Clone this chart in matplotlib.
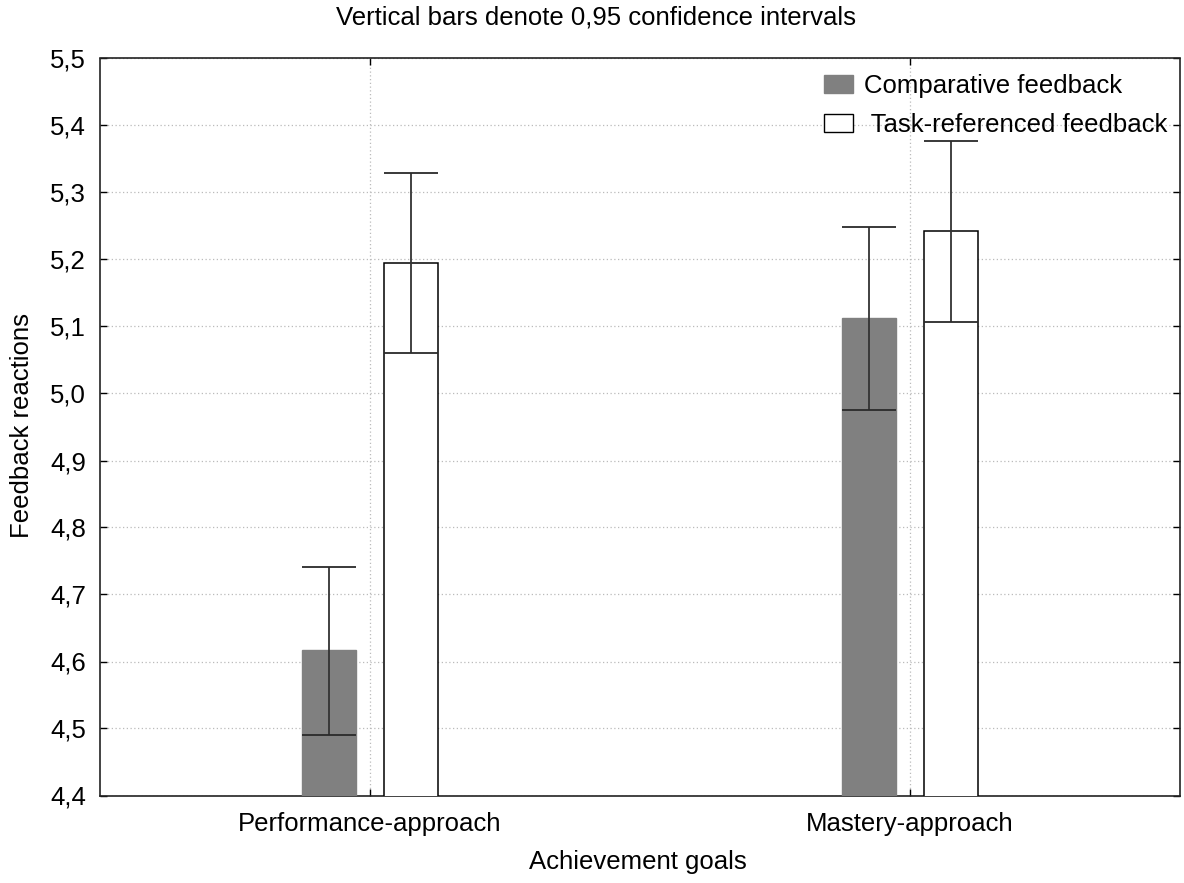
import matplotlib
matplotlib.use("Agg")
import matplotlib.pyplot as plt
from matplotlib.ticker import FuncFormatter, MultipleLocator
from matplotlib.patches import Patch
import numpy as np

plt.rcParams['font.family'] = ['Liberation Sans', 'DejaVu Sans']

groups = ["Performance-approach", "Mastery-approach"]
series = ["Comparative feedback", "Task-referenced feedback"]
comp_mean = [4.617, 5.113]
comp_lo = [4.491, 4.976]
comp_hi = [4.741, 5.248]
task_mean = [5.195, 5.243]
task_lo = [5.060, 5.107]
task_hi = [5.329, 5.377]

fig = plt.figure(figsize=(11.84, 8.83), dpi=100)
ax = fig.add_axes([100/1184, 1-795.5/883, 1080/1184, 737/883])

x = np.arange(len(groups))
w = 0.1
off = 0.076
fs = 18.5

ax.bar(x - off, comp_mean, width=w, color="#808080", edgecolor="#808080", linewidth=1, zorder=3)
ax.bar(x + off, task_mean, width=w, color="white", edgecolor="black", linewidth=1.1, zorder=3)

for xs, lo, hi in [(x - off, comp_lo, comp_hi), (x + off, task_lo, task_hi)]:
    ax.vlines(xs, lo, hi, color="#333333", linewidth=1.3, zorder=4)
    ax.hlines(hi, xs - w/2, xs + w/2, color="#2a2a2a", linewidth=1.3, zorder=4)
    ax.hlines(lo, xs - w/2, xs + w/2, color="#2a2a2a", linewidth=1.3, zorder=4)

ax.set_xlim(-0.5, 1.5)
ax.set_ylim(4.4, 5.5)
ax.yaxis.set_major_locator(MultipleLocator(0.1))
ax.yaxis.set_major_formatter(FuncFormatter(lambda v, p: f"{v:.1f}".replace(".", ",")))
ax.set_xticks(x)
ax.set_xticklabels(groups)
ax.tick_params(direction="in", length=5, width=1, top=True, right=True,
               labelsize=fs, colors="black")
ax.tick_params(axis="y", pad=10)
ax.tick_params(axis="x", pad=12)
ax.grid(True, linestyle=(0, (1, 2)), color="#bbbbbb", linewidth=0.9, zorder=0)
ax.set_axisbelow(True)
for s in ax.spines.values():
    s.set_color("#222222")
    s.set_linewidth(1.2)

fig.text(0.503, 1-18/883, "Vertical bars denote 0,95 confidence intervals", ha="center", va="center", fontsize=fs)
fig.text(638/1184, 1-862/883, "Achievement goals", ha="center", va="center", fontsize=fs)
fig.text(22/1184, 1-425/883, "Feedback reactions", ha="center", va="center", rotation=90, fontsize=fs)

handles = [Patch(facecolor="#808080", edgecolor="#808080"),
           Patch(facecolor="white", edgecolor="black", linewidth=1)]
leg = ax.legend(handles, [series[0], " " + series[1]], loc="upper left",
                bbox_to_anchor=(824/1184, 1-74/883), bbox_transform=fig.transFigure,
                frameon=False, fontsize=fs, borderpad=0, borderaxespad=0,
                handlelength=1.13, handleheight=0.74, handletextpad=0.42,
                labelspacing=0.58)

fig.savefig("out.png", dpi=100)
